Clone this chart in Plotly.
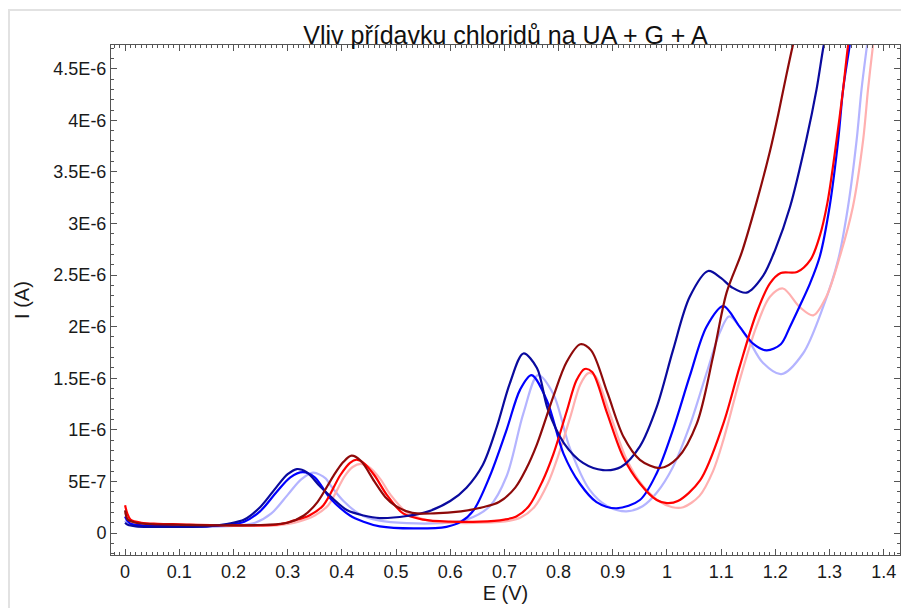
import plotly.graph_objects as go

# potential (V) and current (uA), one pair per curve
e_dark_blue = [0.0, 0.005, 0.02, 0.05, 0.1, 0.15, 0.19, 0.22, 0.25, 0.28, 0.30, 0.317, 0.335, 0.36, 0.38, 0.41,
               0.44, 0.47, 0.52, 0.56, 0.60, 0.63, 0.66, 0.686, 0.71, 0.735, 0.76, 0.78, 0.81, 0.845, 0.882,
               0.915, 0.95, 0.981, 1.011, 1.042, 1.076, 1.10, 1.12, 1.147, 1.177, 1.20, 1.227, 1.257, 1.276,
               1.289, 1.30]
i_dark_blue = [0.10, 0.08, 0.065, 0.06, 0.06, 0.065, 0.09, 0.13, 0.255, 0.45, 0.57, 0.62, 0.59, 0.45, 0.35, 0.22,
               0.17, 0.145, 0.165, 0.21, 0.31, 0.44, 0.66, 1.03, 1.45, 1.74, 1.60, 1.20, 0.87, 0.68, 0.61,
               0.64, 0.84, 1.22, 1.77, 2.29, 2.54, 2.47, 2.38, 2.33, 2.49, 2.75, 3.16, 3.81, 4.30,
               4.72, 5.0]

e_blue = [0.0, 0.004, 0.01, 0.03, 0.06, 0.1, 0.15, 0.19, 0.22, 0.249, 0.28, 0.305, 0.328, 0.35, 0.378, 0.415,
          0.44, 0.47, 0.532, 0.593, 0.62, 0.643, 0.673, 0.704, 0.729, 0.75, 0.778, 0.809, 0.839, 0.87, 0.907,
          0.95, 0.981, 1.011, 1.042, 1.073, 1.104, 1.134, 1.16, 1.184, 1.21, 1.227, 1.245, 1.264, 1.282, 1.30,
          1.316, 1.325, 1.337, 1.345]
i_blue = [0.16, 0.12, 0.09, 0.075, 0.07, 0.065, 0.065, 0.08, 0.11, 0.21, 0.40, 0.54, 0.59, 0.54, 0.34, 0.17,
          0.11, 0.065, 0.045, 0.06, 0.11, 0.22, 0.55, 1.0, 1.39, 1.53, 1.29, 0.77, 0.48, 0.30, 0.24,
          0.32, 0.58, 1.0, 1.52, 2.0, 2.20, 2.0, 1.83, 1.77, 1.83, 2.0, 2.2, 2.42, 2.68, 3.16,
          3.81, 4.30, 4.72, 5.0]

e_light_blue = [0.0, 0.004, 0.01, 0.03, 0.06, 0.1, 0.15, 0.2, 0.24, 0.27, 0.30, 0.325, 0.347, 0.37, 0.378,
                0.403, 0.434, 0.47, 0.52, 0.58, 0.63, 0.673, 0.704, 0.735, 0.762, 0.79, 0.821, 0.857, 0.89,
                0.925, 0.955, 0.981, 1.011, 1.042, 1.073, 1.098, 1.115, 1.147, 1.177, 1.211, 1.251, 1.288,
                1.316, 1.334, 1.35, 1.359, 1.369, 1.376]
i_light_blue = [0.12, 0.09, 0.075, 0.065, 0.06, 0.06, 0.06, 0.07, 0.10, 0.19, 0.37, 0.52, 0.585, 0.53, 0.47,
                0.31, 0.18, 0.12, 0.095, 0.095, 0.13, 0.26, 0.55, 1.16, 1.53, 1.35, 0.82, 0.42, 0.26,
                0.21, 0.26, 0.39, 0.64, 1.04, 1.55, 1.95, 2.10, 1.90, 1.65, 1.54, 1.74, 2.19,
                2.65, 3.16, 3.81, 4.30, 4.72, 5.0]

e_dark_red = [0.0, 0.005, 0.02, 0.05, 0.1, 0.2, 0.26, 0.30, 0.33, 0.355, 0.384, 0.403, 0.418, 0.435, 0.46,
              0.48, 0.50, 0.53, 0.57, 0.62, 0.66, 0.69, 0.72, 0.74, 0.76, 0.79, 0.815, 0.84, 0.86, 0.89, 0.92,
              0.95, 0.987, 1.02, 1.055, 1.085, 1.11, 1.138, 1.165, 1.19, 1.205, 1.218, 1.232, 1.245]
i_dark_red = [0.22, 0.13, 0.10, 0.085, 0.08, 0.075, 0.08, 0.10, 0.17, 0.30, 0.55, 0.69, 0.75, 0.70, 0.50,
              0.35, 0.26, 0.195, 0.19, 0.21, 0.25, 0.30, 0.44, 0.62, 0.86, 1.32, 1.66, 1.83, 1.77, 1.36, 0.93,
              0.71, 0.63, 0.73, 1.06, 1.71, 2.33, 2.72, 3.20, 3.70, 4.05, 4.38, 4.72, 5.0]

e_red = [0.0, 0.004, 0.01, 0.03, 0.06, 0.1, 0.2, 0.28, 0.311, 0.34, 0.366, 0.397, 0.415, 0.427, 0.44, 0.46,
         0.483, 0.513, 0.55, 0.60, 0.655, 0.70, 0.722, 0.745, 0.77, 0.79, 0.815, 0.833, 0.848, 0.862, 0.889,
         0.919, 0.95, 0.981, 1.0, 1.02, 1.061, 1.104, 1.134, 1.165, 1.19, 1.21, 1.24, 1.265, 1.282, 1.296,
         1.313, 1.325, 1.334, 1.342]
i_red = [0.27, 0.19, 0.13, 0.10, 0.09, 0.085, 0.075, 0.08, 0.12, 0.17, 0.27, 0.56, 0.68, 0.71, 0.68, 0.56,
         0.37, 0.19, 0.13, 0.11, 0.11, 0.13, 0.16, 0.26, 0.50, 0.76, 1.18, 1.48, 1.59, 1.56, 1.17,
         0.74, 0.48, 0.32, 0.29, 0.31, 0.51, 1.06, 1.61, 2.13, 2.42, 2.52, 2.53, 2.65, 2.88, 3.2,
         3.81, 4.30, 4.72, 5.0]

e_light_red = [0.0, 0.004, 0.01, 0.03, 0.06, 0.1, 0.2, 0.28, 0.32, 0.35, 0.375, 0.405, 0.42, 0.435, 0.45,
               0.47, 0.49, 0.52, 0.56, 0.60, 0.66, 0.71, 0.73, 0.755, 0.78, 0.80, 0.823, 0.84, 0.855, 0.868,
               0.895, 0.925, 0.955, 0.985, 1.01, 1.03, 1.06, 1.085, 1.104, 1.134, 1.165, 1.19, 1.214, 1.245,
               1.27, 1.294, 1.319, 1.343, 1.362, 1.371, 1.38, 1.387]
i_light_red = [0.2, 0.15, 0.11, 0.09, 0.085, 0.08, 0.07, 0.075, 0.11, 0.17, 0.27, 0.55, 0.64, 0.67, 0.64,
               0.53, 0.37, 0.20, 0.12, 0.10, 0.10, 0.12, 0.15, 0.25, 0.48, 0.76, 1.15, 1.44, 1.55, 1.52,
               1.15, 0.72, 0.46, 0.31, 0.25, 0.25, 0.36, 0.60, 0.90, 1.48, 2.0, 2.29, 2.37, 2.19,
               2.11, 2.29, 2.68, 3.16, 3.81, 4.30, 4.72, 5.0]

y_tick_vals = [0, 5e-7, 1e-6, 1.5e-6, 2e-6, 2.5e-6, 3e-6, 3.5e-6, 4e-6, 4.5e-6]
y_tick_text = ["0", "5E-7", "1E-6", "1.5E-6", "2E-6", "2.5E-6", "3E-6", "3.5E-6", "4E-6", "4.5E-6"]

curves = [
    (e_light_blue, i_light_blue, "#b4b4ff"),
    (e_light_red, i_light_red, "#ffb0b0"),
    (e_blue, i_blue, "#0000ff"),
    (e_red, i_red, "#ff0000"),
    (e_dark_blue, i_dark_blue, "#0a0a9e"),
    (e_dark_red, i_dark_red, "#8e0a0a"),
]

fig = go.Figure()
for e, i, color in curves:
    fig.add_trace(go.Scatter(
        x=e,
        y=[v * 1e-6 for v in i],
        mode="lines",
        line=dict(color=color, width=2.2, shape="spline", smoothing=0.9),
        hoverinfo="skip",
    ))

narrow = "Liberation Sans Narrow, Liberation Sans, Arial"
regular = "Liberation Sans, Arial"

# the page body keeps its default 8px margin, so the figure is 8px smaller
fig.update_layout(
    width=901,
    height=600,
    margin=dict(l=103, r=9, t=37, b=53),
    paper_bgcolor="white",
    plot_bgcolor="white",
    showlegend=False,
    font=dict(family=regular, size=18, color="#1a1a1a"),
    title=dict(
        text="Vliv přídavku chloridů na UA + G + A",
        x=0.5, xref="paper", xanchor="center",
        y=0.955, yref="container", yanchor="middle",
        font=dict(family=narrow, size=25, color="#111111"),
    ),
    xaxis=dict(
        range=[-0.026, 1.43],
        dtick=0.1, tick0=0,
        automargin=False,
        showgrid=False, zeroline=False,
        showline=True, linecolor="#555555", linewidth=1, mirror="allticks",
        ticks="inside", ticklen=6, tickcolor="#555555",
        minor=dict(dtick=0.01, ticks="inside", ticklen=3, tickcolor="#555555"),
        title=dict(text="E (V)", font=dict(family=narrow, size=20), standoff=4),
    ),
    yaxis=dict(
        range=[-2.13e-7, 4.73e-6],
        tickvals=y_tick_vals, ticktext=y_tick_text,
        automargin=False,
        showgrid=False, zeroline=False,
        showline=True, linecolor="#555555", linewidth=1, mirror="allticks",
        ticks="inside", ticklen=6, tickcolor="#555555",
        minor=dict(dtick=1e-7, tick0=0, ticks="inside", ticklen=3, tickcolor="#555555"),
        title=dict(text="I (A)", font=dict(family=narrow, size=20), standoff=18),
    ),
    shapes=[dict(
        type="rect", xref="paper", yref="paper",
        x0=-0.1293, x1=1.05, y0=-0.15, y1=1.0686,
        line=dict(color="#e2e2e2", width=2),
        layer="below",
    )],
)

fig.write_html("out.html")
